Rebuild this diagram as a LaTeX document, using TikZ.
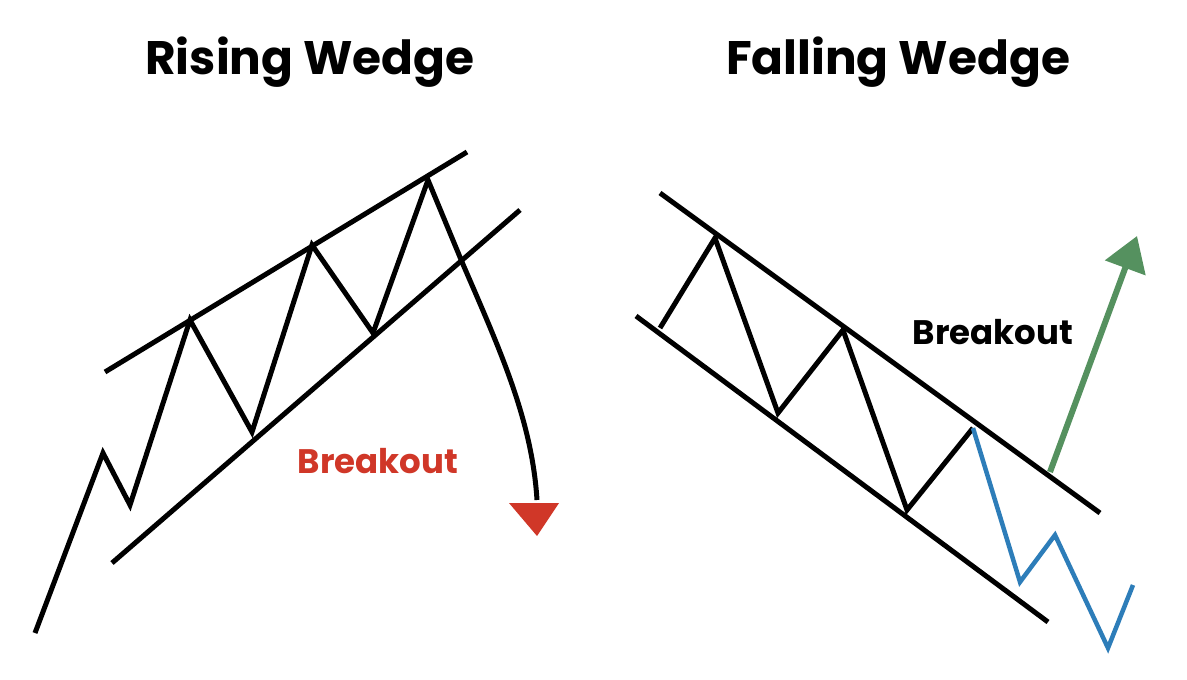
\documentclass[tikz,border=0pt]{standalone}
\usepackage{fontspec}
\setmainfont{Poppins}
\usetikzlibrary{arrows.meta}
\begin{document}
\begin{tikzpicture}[x=1pt,y=-1pt,
  ln/.style={line width=5pt,black},
  ttl/.style={font=\fontsize{47}{47}\selectfont\bfseries},
  brk/.style={font=\fontsize{34}{34}\selectfont\bfseries}]
\useasboundingbox (0,0) rectangle (1187,680);
\fill[white] (0,0) rectangle (1187,680);
\definecolor{bred}{RGB}{208,55,40}
\definecolor{bblue}{RGB}{45,125,185}
\definecolor{bgreen}{RGB}{85,145,95}
\node[ttl] (t1) at (310,62) {Rising Wedge};
\node[ttl] (t2) at (898,62) {Falling Wedge};
% rising
\coordinate (ru1) at (105,372); \coordinate (ru2) at (467,152);
\coordinate (rl1) at (112,563); \coordinate (rl2) at (520,210);
\draw[ln] (ru1) -- (ru2);
\draw[ln] (rl1) -- (rl2);
\coordinate (a0) at (35,633); \coordinate (a1) at (103,453); \coordinate (a2) at (130,505);
\coordinate (a3) at (190,320); \coordinate (a4) at (252,432); \coordinate (a5) at (312,245);
\coordinate (a6) at (373,333); \coordinate (a7) at (428,180); \coordinate (a8) at (462,262);
\coordinate (a9) at (537,500);
\draw[ln,line join=miter] (a0)--(a1)--(a2)--(a3)--(a4)--(a5)--(a6)--(a7)--(a8)
  .. controls (500,350) and (532,420) .. (a9);
\fill[bred] (509,503) -- (559,503) -- (537,536) -- cycle;
\node[brk,text=bred] (b1) at (378,461) {Breakout};
% falling
\coordinate (fu1) at (660,193); \coordinate (fu2) at (1100,513);
\coordinate (fl1) at (636,316); \coordinate (fl2) at (1048,622);
\draw[ln] (fu1) -- (fu2);
\draw[ln] (fl1) -- (fl2);
\coordinate (c0) at (660,328); \coordinate (c1) at (715,238); \coordinate (c2) at (778,413);
\coordinate (c3) at (843,330); \coordinate (c4) at (907,510); \coordinate (c5) at (973,428);
\draw[ln,line join=miter] (c0)--(c1)--(c2)--(c3)--(c4)--(c5);
\coordinate (d1) at (1020,582); \coordinate (d2) at (1055,535); \coordinate (d3) at (1108,648); \coordinate (d4) at (1133,585);
\draw[line width=4.5pt,bblue,line join=miter] (c5)--(d1)--(d2)--(d3)--(d4);
\coordinate (g0) at (1050,472); \coordinate (g1) at (1137,236);
\draw[line width=6pt,bgreen,-{Triangle[length=34pt,width=42pt]}] (g0) -- (g1);
\node[brk] (b2) at (993,332) {Breakout};
\end{tikzpicture}
\end{document}
